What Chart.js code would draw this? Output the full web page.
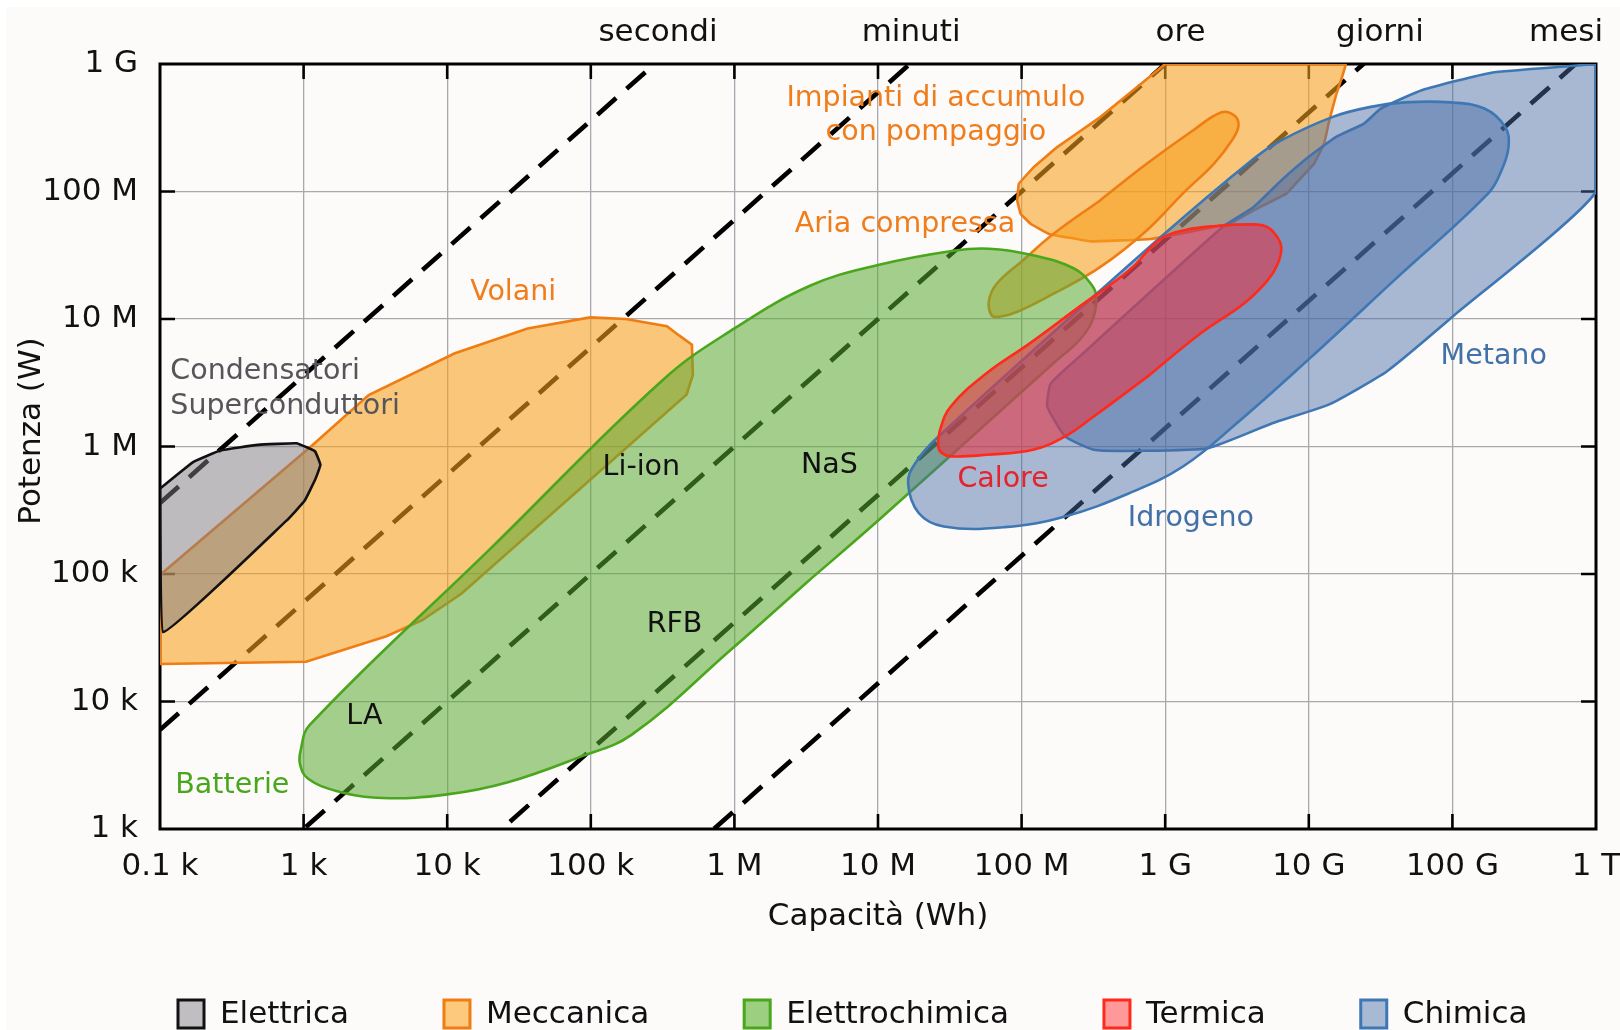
<!DOCTYPE html>
<html>
<head>
<meta charset="utf-8">
<title>Tecnologie di accumulo: potenza e capacità</title>
<script src="https://cdn.jsdelivr.net/npm/chart.js@4.4.1/dist/chart.umd.min.js"></script>
<style>
  html, body { margin: 0; padding: 0; background: #ffffff; overflow: hidden; }
  #wrap { width: 1620px; height: 1030px; position: relative; }
  canvas { display: block; }
</style>
</head>
<body>
<div id="wrap"><canvas id="chart" width="1620" height="1030"></canvas></div>
<script>
// ---------- axes ----------
const xTickValues = [1e2, 1e3, 1e4, 1e5, 1e6, 1e7, 1e8, 1e9, 1e10, 1e11, 1e12];
const xTickLabels = ['0.1 k', '1 k', '10 k', '100 k', '1 M', '10 M', '100 M', '1 G', '10 G', '100 G', '1 T'];
const yTickValues = [1e3, 1e4, 1e5, 1e6, 1e7, 1e8, 1e9];
const yTickLabels = ['1 k', '10 k', '100 k', '1 M', '10 M', '100 M', '1 G'];

// ---------- discharge-time reference lines (P = E / t, t in hours) ----------
const timeNames = ['secondi', 'minuti', 'ore', 'giorni', 'mesi'];
const timeHours = [1 / 3600, 1 / 60, 1, 24, 720];

// ---------- categories (legend) ----------
const categories = ['Elettrica', 'Meccanica', 'Elettrochimica', 'Termica', 'Chimica'];

// ---------- technology regions: capacity (Wh) and power (W) outlines ----------
// Elettrica: condensatori / superconduttori
const condensatoriWh = [100, 171, 263, 481, 891, 1072, 1202, 1309, 1202, 1012, 760, 105];
const condensatoriW  = [4.67e5, 7.57e5, 9.29e5, 1.03e6, 1.06e6, 9.77e5, 9.16e5, 7.18e5, 5.48e5, 3.73e5, 2.62e5, 3.51e4];

// Meccanica: volani
const volaniWh = [100, 1040, 3776, 6699, 1.26e4, 4.65e5, 5.14e5, 5.06e5, 4.14e5, 3.39e5, 1.75e5, 9.89e4, 3.63e4, 1.12e4, 2838, 1135, 100];
const volaniW  = [1.97e4, 2.05e4, 3.25e4, 4.34e4, 7.03e4, 2.56e6, 3.65e6, 6.30e6, 7.40e6, 8.79e6, 1.0e7, 1.03e7, 8.41e6, 5.36e6, 2.53e6, 1.01e6, 9.82e4];

// Meccanica: impianti di accumulo con pompaggio
const pompaggioWh = [1e9, 1.8e10, 1.56e10, 1.39e10, 1.28e10, 1.09e10, 8.95e9, 6.98e9, 4.13e9, 2.81e9, 7.94e8, 3.02e8, 1.55e8, 1.16e8, 9.84e7, 9.33e7, 9.57e7, 1.22e8, 1.77e8, 3.55e8];
const pompaggioW  = [1e9, 1e9, 5.87e8, 3.63e8, 2.38e8, 1.66e8, 1.30e8, 9.62e7, 7.11e7, 5.58e7, 4.24e7, 4.06e7, 4.65e7, 5.56e7, 6.67e7, 8.49e7, 1.15e8, 1.56e8, 2.23e8, 3.85e8];

// Meccanica: aria compressa
const ariaWh = [3.52e8, 7.43e8, 1.56e9, 2.47e9, 3.03e9, 3.24e9, 2.91e9, 2.18e9, 1.32e9, 7.43e8, 3.52e8, 1.67e8, 9.35e7, 7.0e7, 6.18e7, 5.93e7, 6.71e7, 1.02e8, 1.67e8];
const ariaW  = [8.51e7, 1.65e8, 3.01e8, 4.18e8, 3.94e8, 3.29e8, 2.51e8, 1.65e8, 9.59e7, 4.95e7, 2.55e7, 1.58e7, 1.14e7, 1.04e7, 1.07e7, 1.40e7, 1.89e7, 2.88e7, 4.66e7];

// Elettrochimica: batterie (LA, Li-ion, NaS, RFB)
const batterieWh = [3.16e6, 1.04e7, 1.71e8, 2.47e8, 3.08e8, 3.32e8, 3.08e8, 2.30e8, 1.18e8, 5.94e7, 3.35e7, 1.0e7, 3.39e6, 1.0e6, 3.16e5, 2.0e4, 1.10e3, 955, 944, 1.07e3, 1.69e3, 3.56e3, 1.0e4, 2.65e4, 8.32e4, 1.93e5, 9.62e5];
const batterieW  = [8.51e4, 2.72e5, 4.62e6, 6.64e6, 9.53e6, 1.45e7, 1.85e7, 2.50e7, 3.18e7, 3.56e7, 3.43e7, 2.65e7, 1.83e7, 8.43e6, 3.31e6, 1.58e5, 6.52e3, 4.16e3, 3.22e3, 2.49e3, 1.99e3, 1.75e3, 1.87e3, 2.33e3, 3.66e3, 5.50e3, 2.59e4];

// Termica: calore
const caloreWh = [7.52e8, 3.18e8, 2.01e8, 1.20e8, 5.70e7, 3.21e7, 2.79e7, 2.63e7, 2.69e7, 3.21e7, 5.70e7, 1.14e8, 2.53e8, 5.64e8, 9.31e8, 1.41e9, 2.25e9, 4.13e9, 5.15e9, 5.92e9, 6.43e9, 6.08e9, 5.15e9, 3.50e9, 1.77e9];
const caloreW  = [3.53e6, 1.72e6, 1.20e6, 9.42e5, 8.61e5, 8.36e5, 8.87e5, 1.0e6, 1.32e6, 2.06e6, 3.75e6, 6.44e6, 1.25e7, 2.42e7, 4.26e7, 5.01e7, 5.36e7, 5.52e7, 5.26e7, 4.52e7, 3.66e7, 2.71e7, 2.0e7, 1.31e7, 7.73e6];

// Chimica: idrogeno
const idrogenoWh = [4.17e10, 1.77e11, 2.20e11, 2.46e11, 2.33e11, 1.67e11, 9.62e10, 4.69e10, 2.70e10, 1.47e10, 6.43e9, 4.13e9, 9.31e8, 2.56e7, 1.82e7, 1.62e7, 1.92e7, 2.87e7, 7.60e7, 2.01e8, 5.64e8, 1.33e9, 3.15e9, 9.89e9];
const idrogenoW  = [2.14e7, 9.62e7, 1.47e8, 2.24e8, 3.21e8, 4.48e8, 5.0e8, 5.0e8, 4.61e8, 3.85e8, 2.52e8, 1.81e8, 4.39e7, 1.16e6, 7.40e5, 5.16e5, 3.01e5, 2.36e5, 2.33e5, 2.83e5, 4.31e5, 6.97e5, 1.52e6, 4.78e6];

// Chimica: metano
const metanoWh = [1e12, 1e12, 1.03e11, 3.47e10, 1.40e10, 5.57e9, 1.99e9, 6.70e8, 3.18e8, 2.01e8, 1.51e8, 1.60e8, 2.53e8, 2.51e9, 4.13e9, 6.43e9, 1.0e10, 1.56e10, 2.42e10, 3.19e10, 6.18e10, 1.87e11, 6.65e11];
const metanoW  = [1e9, 1e8, 1.07e7, 3.86e6, 2.15e6, 1.52e6, 9.70e5, 9.25e5, 9.42e5, 1.20e6, 2.06e6, 3.13e6, 5.07e6, 5.26e7, 7.55e7, 1.22e8, 1.87e8, 2.69e8, 3.41e8, 4.48e8, 6.25e8, 8.55e8, 9.64e8];

// ---------- styling ----------
const FONT = '"DejaVu Sans", Verdana, sans-serif';
const INK = '#111111';
const BG = '#fdfafa';

const palette = {
  Elettrica:      { fill: 'rgba(128,123,130,0.5)',  edge: '#111111', text: '#56565a', legendFill: '#c1bec2' },
  Meccanica:      { fill: 'rgba(247,160,30,0.58)',  edge: '#ef7d14', text: '#f07d1c', legendFill: '#fcc97d' },
  Elettrochimica: { fill: 'rgba(90,170,50,0.55)',   edge: '#4aa61c', text: '#4aa61c', legendFill: '#9ccf7f' },
  Termica:        { fill: 'rgba(226,56,72,0.62)',   edge: '#ff2a1a', text: '#e5232c', legendFill: '#ff9898' },
  Chimica:        { fill: 'rgba(72,108,165,0.47)',  edge: '#3d77b4', text: '#4271a8', legendFill: '#a8b9d3' }
};

// text placed inside the plot (data coordinates)
const notes = [
  { text: 'Condensatori',        wh: 118,    w: 3.84e6, cat: 'Elettrica', align: 'left' },
  { text: 'Superconduttori',     wh: 118,    w: 2.07e6, cat: 'Elettrica', align: 'left' },
  { text: 'Volani',              wh: 2.88e4, w: 1.61e7, cat: 'Meccanica' },
  { text: 'Impianti di accumulo',wh: 2.53e7, w: 5.40e8, cat: 'Meccanica' },
  { text: 'con pompaggio',       wh: 2.53e7, w: 2.92e8, cat: 'Meccanica' },
  { text: 'Aria compressa',      wh: 1.54e7, w: 5.53e7, cat: 'Meccanica' },
  { text: 'Li-ion',              wh: 2.25e5, w: 6.89e5, color: INK },
  { text: 'NaS',                 wh: 4.59e6, w: 7.14e5, color: INK },
  { text: 'RFB',                 wh: 3.83e5, w: 4.03e4, color: INK },
  { text: 'LA',                  wh: 2.65e3, w: 7.66e3, color: INK },
  { text: 'Batterie',            wh: 319,    w: 2.19e3, cat: 'Elettrochimica' },
  { text: 'Calore',              wh: 7.43e7, w: 5.50e5, cat: 'Termica' },
  { text: 'Idrogeno',            wh: 1.51e9, w: 2.70e5, cat: 'Chimica' },
  { text: 'Metano',              wh: 1.94e11,w: 5.07e6, cat: 'Chimica' }
];
// where the time names sit above the plot (capacity at label centre)
const timeNameWh = [2.94e5, 1.70e7, 1.28e9, 3.13e10, 6.18e11];

// ---------- datasets ----------
function closedOutline(wh, w) {
  const pts = wh.map((x, i) => ({ x: x, y: w[i] }));
  pts.push({ x: pts[0].x, y: pts[0].y });
  return pts;
}

function region(label, cat, wh, w, tension, order) {
  const c = palette[cat];
  return {
    label: label,
    category: cat,
    data: closedOutline(wh, w),
    showLine: true,
    fill: 'shape',
    backgroundColor: c.fill,
    borderColor: c.edge,
    borderWidth: 2.6,
    tension: tension,
    pointRadius: 0,
    pointHoverRadius: 0,
    order: order
  };
}

const timeLineSets = timeHours.map((t, i) => ({
  label: timeNames[i],
  data: [{ x: xTickValues[0], y: xTickValues[0] / t }, { x: xTickValues[xTickValues.length - 1], y: xTickValues[xTickValues.length - 1] / t }],
  showLine: true,
  fill: false,
  borderColor: '#000000',
  borderWidth: 4.6,
  borderDash: [25, 14],
  pointRadius: 0,
  pointHoverRadius: 0,
  order: 20
}));

const datasets = [
  ...timeLineSets,
  region('Volani', 'Meccanica', volaniWh, volaniW, 0, 12),
  region('Impianti di accumulo con pompaggio', 'Meccanica', pompaggioWh, pompaggioW, 0.05, 12),
  region('Aria compressa', 'Meccanica', ariaWh, ariaW, 0.4, 11),
  region('Condensatori / Superconduttori', 'Elettrica', condensatoriWh, condensatoriW, 0.1, 10),
  region('Batterie', 'Elettrochimica', batterieWh, batterieW, 0.4, 8),
  region('Metano', 'Chimica', metanoWh, metanoW, 0.15, 6),
  region('Idrogeno', 'Chimica', idrogenoWh, idrogenoW, 0.4, 5),
  region('Calore', 'Termica', caloreWh, caloreW, 0.4, 3)
];

// ---------- plugins ----------
const backdrop = {
  id: 'backdrop',
  beforeDraw(chart) {
    const { ctx, width, height } = chart;
    ctx.save();
    ctx.fillStyle = '#ffffff';
    ctx.fillRect(0, 0, width, height);
    ctx.fillStyle = BG;
    ctx.fillRect(6, 7, width - 6, height - 7);
    ctx.restore();
  }
};

// plot frame with inward tick marks on all four sides
const frame = {
  id: 'frame',
  beforeDatasetsDraw(chart) {
    const { ctx, chartArea: a, scales } = chart;
    const tick = 15;
    ctx.save();
    ctx.strokeStyle = '#000000';
    ctx.lineWidth = 2.6;
    ctx.beginPath();
    xTickValues.slice(1, -1).forEach(v => {
      const px = scales.x.getPixelForValue(v);
      ctx.moveTo(px, a.bottom); ctx.lineTo(px, a.bottom - tick);
      ctx.moveTo(px, a.top); ctx.lineTo(px, a.top + tick);
    });
    yTickValues.slice(1, -1).forEach(v => {
      const py = scales.y.getPixelForValue(v);
      ctx.moveTo(a.left, py); ctx.lineTo(a.left + tick, py);
      ctx.moveTo(a.right, py); ctx.lineTo(a.right - tick, py);
    });
    ctx.stroke();
    ctx.lineWidth = 3;
    ctx.strokeRect(a.left, a.top, a.right - a.left, a.bottom - a.top);
    ctx.restore();
  }
};

// technology names inside the plot and time names above it
const notesLayer = {
  id: 'notesLayer',
  afterDatasetsDraw(chart) {
    const { ctx, scales, chartArea: a } = chart;
    ctx.save();
    ctx.textBaseline = 'middle';
    ctx.font = '28.5px ' + FONT;
    notes.forEach(n => {
      ctx.fillStyle = n.color || palette[n.cat].text;
      ctx.textAlign = n.align || 'center';
      ctx.fillText(n.text, scales.x.getPixelForValue(n.wh), scales.y.getPixelForValue(n.w));
    });
    ctx.font = '31px ' + FONT;
    ctx.fillStyle = INK;
    ctx.textAlign = 'center';
    timeNames.forEach((name, i) => {
      ctx.fillText(name, scales.x.getPixelForValue(timeNameWh[i]), a.top - 31);
    });
    ctx.restore();
  }
};

// category legend along the bottom edge
const categoryLegend = {
  id: 'categoryLegend',
  afterDraw(chart) {
    const { ctx } = chart;
    const box = 26, boxH = 28, gapText = 16, gapItem = 95, cy = 1014;
    ctx.save();
    ctx.font = '31px ' + FONT;
    ctx.textBaseline = 'middle';
    ctx.textAlign = 'left';
    let x = 178;
    categories.forEach(cat => {
      const c = palette[cat];
      ctx.fillStyle = c.legendFill;
      ctx.fillRect(x, cy - boxH / 2, box, boxH);
      ctx.strokeStyle = c.edge;
      ctx.lineWidth = 3;
      ctx.strokeRect(x, cy - boxH / 2, box, boxH);
      ctx.fillStyle = INK;
      const tx = x + box + gapText;
      ctx.fillText(cat, tx, cy + 1);
      x = tx + ctx.measureText(cat).width + gapItem;
    });
    ctx.restore();
  }
};

// ---------- chart ----------
const decadeTicks = values => scale => { scale.ticks = values.map(v => ({ value: v })); };

new Chart(document.getElementById('chart'), {
  type: 'scatter',
  data: { datasets: datasets },
  options: {
    responsive: false,
    animation: false,
    events: [],
    layout: { padding: { top: 64, right: 24, bottom: 0, left: 0 } },
    plugins: {
      legend: { display: false },
      tooltip: { enabled: false },
      filler: { propagate: false }
    },
    scales: {
      x: {
        type: 'logarithmic',
        min: xTickValues[0],
        max: xTickValues[xTickValues.length - 1],
        afterBuildTicks: decadeTicks(xTickValues),
        afterFit: s => { s.height = 201; s.paddingLeft = 0; s.paddingRight = 0; },
        border: { display: false },
        grid: { color: '#a8a8ad', lineWidth: 1.3, drawTicks: false },
        ticks: {
          callback: (v, i) => xTickLabels[i],
          autoSkip: false, maxRotation: 0, padding: 19,
          color: INK, font: { family: FONT, size: 31 }
        },
        title: {
          display: true, text: 'Capacità (Wh)', color: INK,
          font: { family: FONT, size: 31 }, padding: { top: 0, bottom: 94 }
        }
      },
      y: {
        type: 'logarithmic',
        min: yTickValues[0],
        max: yTickValues[yTickValues.length - 1],
        afterBuildTicks: decadeTicks(yTickValues),
        afterFit: s => { s.width = 160; s.paddingTop = 0; s.paddingBottom = 0; },
        border: { display: false },
        grid: { color: '#a8a8ad', lineWidth: 1.3, drawTicks: false },
        ticks: {
          callback: (v, i) => yTickLabels[i],
          autoSkip: false, padding: 22,
          color: INK, font: { family: FONT, size: 31 }
        },
        title: {
          // leading en spaces lift the rotated title slightly above the axis centre
          display: true, text: '\u2002\u2002Potenza (W)', color: INK,
          font: { family: FONT, size: 31 }, padding: { top: 13, bottom: 0 }
        }
      }
    }
  },
  plugins: [backdrop, frame, notesLayer, categoryLegend]
});
</script>
</body>
</html>
